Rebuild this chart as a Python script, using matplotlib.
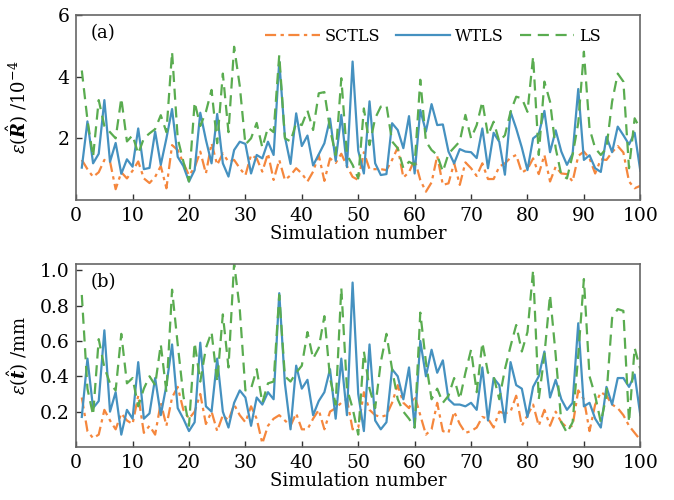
import matplotlib
matplotlib.use("Agg")
import matplotlib.pyplot as plt
import numpy as np

# simulation index
sim = np.arange(1, 101)

# panel (a): rotation error / 1e-4
sctls_r = [1.3, 1.0, 0.75, 0.9, 1.3, 1.25, 0.35, 0.9, 0.7, 0.95,
           1.25, 0.7, 0.55, 0.75, 1.1, 0.38, 1.78, 1.62, 1.2, 0.8,
           1.05, 1.57, 0.86, 1.84, 1.14, 1.51, 1.24, 1.3, 1.03, 0.8,
           1.46, 1.35, 0.92, 1.51, 0.65, 1.3, 0.65, 0.8, 1.03, 0.86,
           0.6, 0.92, 1.46, 0.62, 1.35, 1.2, 1.5, 1.1, 0.75, 0.65,
           1.55, 1.0, 1.0, 1.0, 0.97, 1.3, 1.7, 0.73, 0.9, 1.32,
           0.65, 0.27, 0.57, 1.43, 0.49, 0.54, 1.2, 0.49, 1.22, 1.03,
           0.78, 1.19, 0.68, 0.68, 1.08, 1.19, 1.37, 1.46, 0.89, 1.0,
           1.35, 0.84, 1.46, 0.6, 1.08, 0.86, 0.84, 0.6, 1.43, 1.57,
           1.35, 0.86, 1.32, 1.3, 1.55, 1.75, 1.54, 0.6, 0.38, 0.46]
wtls_r = [1.05, 2.55, 1.19, 1.5, 3.24, 1.24, 1.85, 0.85, 1.32, 1.08,
          2.32, 1.0, 1.04, 2.22, 1.14, 2.0, 2.95, 1.4, 1.1, 0.6,
          0.97, 2.83, 1.95, 1.19, 2.79, 1.19, 0.76, 1.62, 1.89, 1.82,
          0.86, 1.46, 1.35, 1.89, 1.46, 4.5, 2.05, 1.17, 2.81, 1.75,
          2.09, 1.12, 1.48, 1.84, 2.64, 1.27, 2.76, 1.07, 4.49, 1.6,
          0.86, 3.2, 1.19, 0.81, 0.84, 2.49, 2.27, 1.68, 2.72, 0.86,
          2.92, 2.22, 3.11, 2.43, 2.45, 1.57, 1.19, 1.65, 1.57, 1.55,
          1.36, 2.32, 1.03, 2.18, 1.89, 0.82, 2.86, 2.32, 1.7, 0.97,
          2.0, 2.14, 2.89, 1.55, 2.26, 1.57, 1.14, 1.5, 3.6, 1.3,
          1.45, 1.03, 0.91, 2.05, 1.55, 2.38, 2.1, 1.8, 2.18, 0.95]
ls_r = [4.2, 2.6, 1.4, 3.24, 2.4, 2.2, 2.0, 3.3, 1.9, 2.1,
        1.5, 2.0, 2.16, 2.3, 2.75, 2.2, 4.8, 2.0, 1.25, 0.6,
        3.17, 2.4, 2.86, 3.57, 1.84, 4.1, 2.2, 4.97, 3.7, 1.8,
        2.0, 2.5, 1.7, 2.35, 2.2, 4.7, 2.0, 1.9, 2.5, 2.43,
        2.9, 2.27, 3.46, 3.5, 2.3, 1.46, 3.95, 1.46, 1.14, 0.7,
        2.97, 1.78, 2.65, 3.03, 3.08, 1.9, 1.68, 1.03, 1.24, 1.14,
        3.9, 1.9, 1.62, 1.46, 0.92, 1.5, 1.7, 1.9, 2.76, 2.0,
        2.43, 3.19, 2.1, 2.54, 1.9, 2.1, 2.86, 3.35, 3.3, 2.86,
        4.65, 1.46, 3.84, 3.19, 1.68, 0.81, 0.7, 1.46, 2.5, 4.81,
        2.32, 1.68, 1.46, 1.68, 3.19, 4.1, 3.84, 1.03, 2.65, 2.3]

# panel (b): translation error / mm
sctls_t = [0.28, 0.09, 0.05, 0.07, 0.21, 0.15, 0.1, 0.19, 0.15, 0.13,
           0.29, 0.08, 0.12, 0.07, 0.25, 0.12, 0.28, 0.34, 0.21, 0.16,
           0.2, 0.3, 0.13, 0.2, 0.09, 0.18, 0.15, 0.24, 0.18, 0.14,
           0.23, 0.16, 0.02, 0.12, 0.16, 0.18, 0.15, 0.12, 0.19, 0.1,
           0.1, 0.16, 0.21, 0.1, 0.2, 0.22, 0.25, 0.27, 0.1, 0.11,
           0.31, 0.21, 0.18, 0.17, 0.18, 0.25, 0.35, 0.25, 0.22, 0.29,
           0.18, 0.07, 0.1, 0.25, 0.09, 0.08, 0.2, 0.13, 0.08, 0.09,
           0.11, 0.17, 0.16, 0.11, 0.2, 0.19, 0.2, 0.29, 0.12, 0.18,
           0.24, 0.12, 0.21, 0.12, 0.2, 0.14, 0.11, 0.12, 0.32, 0.27,
           0.09, 0.24, 0.31, 0.29, 0.24, 0.22, 0.18, 0.12, 0.08, 0.04]
wtls_t = [0.17, 0.5, 0.22, 0.26, 0.66, 0.2, 0.31, 0.07, 0.21, 0.16,
          0.48, 0.16, 0.19, 0.39, 0.18, 0.35, 0.58, 0.22, 0.16, 0.09,
          0.14, 0.59, 0.23, 0.2, 0.5, 0.2, 0.11, 0.25, 0.32, 0.28,
          0.12, 0.28, 0.24, 0.31, 0.27, 0.87, 0.36, 0.1, 0.46, 0.33,
          0.38, 0.18, 0.26, 0.31, 0.44, 0.16, 0.5, 0.18, 0.93, 0.3,
          0.09, 0.58, 0.15, 0.1, 0.14, 0.44, 0.4, 0.27, 0.45, 0.11,
          0.6, 0.4, 0.55, 0.42, 0.49, 0.27, 0.24, 0.24, 0.23, 0.25,
          0.21, 0.45, 0.15, 0.39, 0.35, 0.14, 0.48, 0.35, 0.33, 0.17,
          0.34, 0.4, 0.54, 0.28, 0.38, 0.27, 0.21, 0.25, 0.7, 0.23,
          0.25, 0.16, 0.11, 0.34, 0.24, 0.39, 0.39, 0.34, 0.41, 0.18]
ls_t = [0.86, 0.33, 0.18, 0.61, 0.45, 0.36, 0.32, 0.64, 0.36, 0.39,
        0.23, 0.33, 0.4, 0.35, 0.58, 0.31, 0.89, 0.58, 0.29, 0.12,
        0.59, 0.37, 0.56, 0.65, 0.37, 0.75, 0.45, 1.04, 0.78, 0.32,
        0.33, 0.44, 0.25, 0.36, 0.37, 0.86, 0.4, 0.37, 0.42, 0.46,
        0.65, 0.5, 0.56, 0.74, 0.39, 0.24, 0.9, 0.33, 0.22, 0.07,
        0.54, 0.33, 0.22, 0.48, 0.64, 0.44, 0.27, 0.2, 0.16, 0.11,
        0.76, 0.48, 0.27, 0.33, 0.25, 0.29, 0.39, 0.27, 0.42, 0.55,
        0.31, 0.59, 0.42, 0.4, 0.27, 0.44, 0.57, 0.69, 0.54, 0.65,
        1.0, 0.27, 0.52, 0.86, 0.52, 0.14, 0.08, 0.14, 0.52, 0.95,
        0.4, 0.29, 0.14, 0.29, 0.73, 0.78, 0.77, 0.14, 0.56, 0.44]

labels = ["SCTLS", "WTLS", "LS"]
colors = ["#f5873d", "#4591c0", "#5aac50"]
styles = [(0, (5, 2, 1.5, 2)), "-", (0, (5, 3))]

plt.rcParams["font.family"] = "DejaVu Serif"
plt.rcParams["mathtext.fontset"] = "dejavuserif"
plt.rcParams["font.size"] = 13

fig = plt.figure(figsize=(6.74, 5.0), dpi=100)
ax1 = fig.add_axes([0.113, 0.6, 0.837, 0.37])
ax2 = fig.add_axes([0.113, 0.106, 0.837, 0.366])

for ax, series in ((ax1, (sctls_r, wtls_r, ls_r)), (ax2, (sctls_t, wtls_t, ls_t))):
    for y, lab, c, st in zip(series, labels, colors, styles):
        ax.plot(sim, y, color=c, linestyle=st, lw=1.6, label=lab)
    ax.set_xlim(0, 100)
    ax.set_xticks(range(0, 101, 10))
    ax.tick_params(direction="in", length=4, width=1, colors="#333333",
                   labelcolor="black", labelsize=13.5, pad=5)
    for s in ax.spines.values():
        s.set_color("#666666")
        s.set_linewidth(1.2)
    ax.set_xlabel("Simulation number", fontsize=13, labelpad=0)
    ax.yaxis.set_label_coords(-0.08, 0.5)

ax1.set_ylim(0, 6)
ax1.set_yticks([2, 4, 6])
ax2.set_ylim(0, 1.035)
ax2.set_yticks([0.2, 0.4, 0.6, 0.8, 1.0])

ax1.set_ylabel(r"$\varepsilon(\hat{\mathbfit{R}})$ /10$^{-4}$", fontsize=13)
ax2.set_ylabel(r"$\varepsilon(\hat{\mathbfit{t}})$ /mm", fontsize=13)

ax1.text(0.025, 0.95, "(a)", transform=ax1.transAxes, fontsize=13, va="top")
ax2.text(0.025, 0.95, "(b)", transform=ax2.transAxes, fontsize=13, va="top")

ax1.legend(loc="upper right", bbox_to_anchor=(0.955, 1.01), ncol=3, frameon=False,
           handlelength=3.4, columnspacing=1.0, handletextpad=0.3, fontsize=11.5)

fig.savefig("out.png", dpi=100)
